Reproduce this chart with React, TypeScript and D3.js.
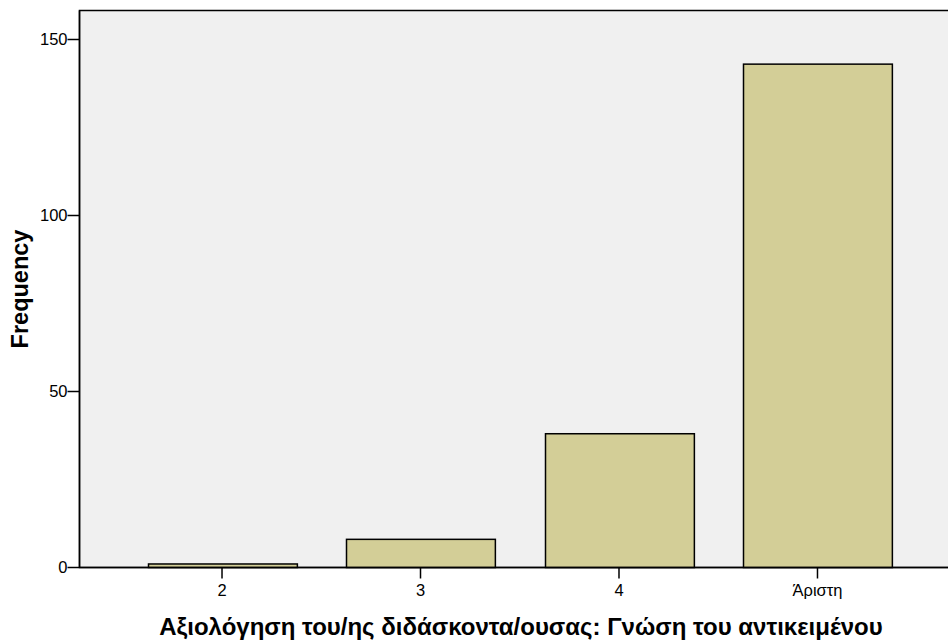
import React from "react";
import * as d3 from "d3";

const categories = ["2", "3", "4", "Άριστη"];
const frequencies = [1, 8, 38, 143];
const yTicks = [0, 50, 100, 150];
const xTitle = "Αξιολόγηση του/ης διδάσκοντα/ουσας: Γνώση του αντικειμένου";
const yTitle = "Frequency";

export default function App() {
  const W = 948, H = 641;
  const left = 79.5, right = 960, top = 10.5, bottom = 567.5;
  const x = d3.scaleBand<string>().domain(categories).range([left, right]).paddingInner(0.25).paddingOuter(0.343);
  const y = d3.scaleLinear().domain([0, 150]).range([bottom, bottom - 528]);
  const font = "Arial, 'Liberation Sans', sans-serif";
  return (
    <svg width={W} height={H} style={{ position: "absolute", left: 0, top: 0, background: "#fff" }} fontFamily={font}>
      <rect x={left} y={top} width={right - left} height={bottom - top} fill="#f0f0f0" stroke="#000" strokeWidth={1.5} />
      {categories.map((c, i) => (
        <rect key={c} x={Math.round(x(c)!) + 0.5} y={y(frequencies[i])} width={x.bandwidth()} height={bottom - y(frequencies[i])}
          fill="#d3ce97" stroke="#000" strokeWidth={1.5} />
      ))}
      <line x1={left} x2={right} y1={bottom} y2={bottom} stroke="#000" strokeWidth={1.5} />
      <line x1={left} x2={left} y1={top} y2={bottom} stroke="#000" strokeWidth={1.5} />
      {yTicks.map(t => (
        <g key={t}>
          <line x1={left - 12} x2={left} y1={y(t)} y2={y(t)} stroke="#000" strokeWidth={1.5} />
          <text x={left - 12} y={y(t)} dy="0.35em" textAnchor="end" fontSize={16.5} fill="#000">{t}</text>
        </g>
      ))}
      {categories.map(c => {
        const cx = x(c)! + x.bandwidth() / 2;
        return (
          <g key={c}>
            <line x1={cx} x2={cx} y1={bottom} y2={bottom + 11} stroke="#000" strokeWidth={1.5} />
            <text x={cx} y={596} textAnchor="middle" fontSize={16.5} fill="#000">{c}</text>
          </g>
        );
      })}
      <text x={521} y={635} textAnchor="middle" fontSize={24} fontWeight="bold" fill="#000">{xTitle}</text>
      <text transform={`translate(20,${(top + bottom) / 2}) rotate(-90)`} dy="0.35em" textAnchor="middle" fontSize={23.5} fontWeight="bold" fill="#000">{yTitle}</text>
    </svg>
  );
}
